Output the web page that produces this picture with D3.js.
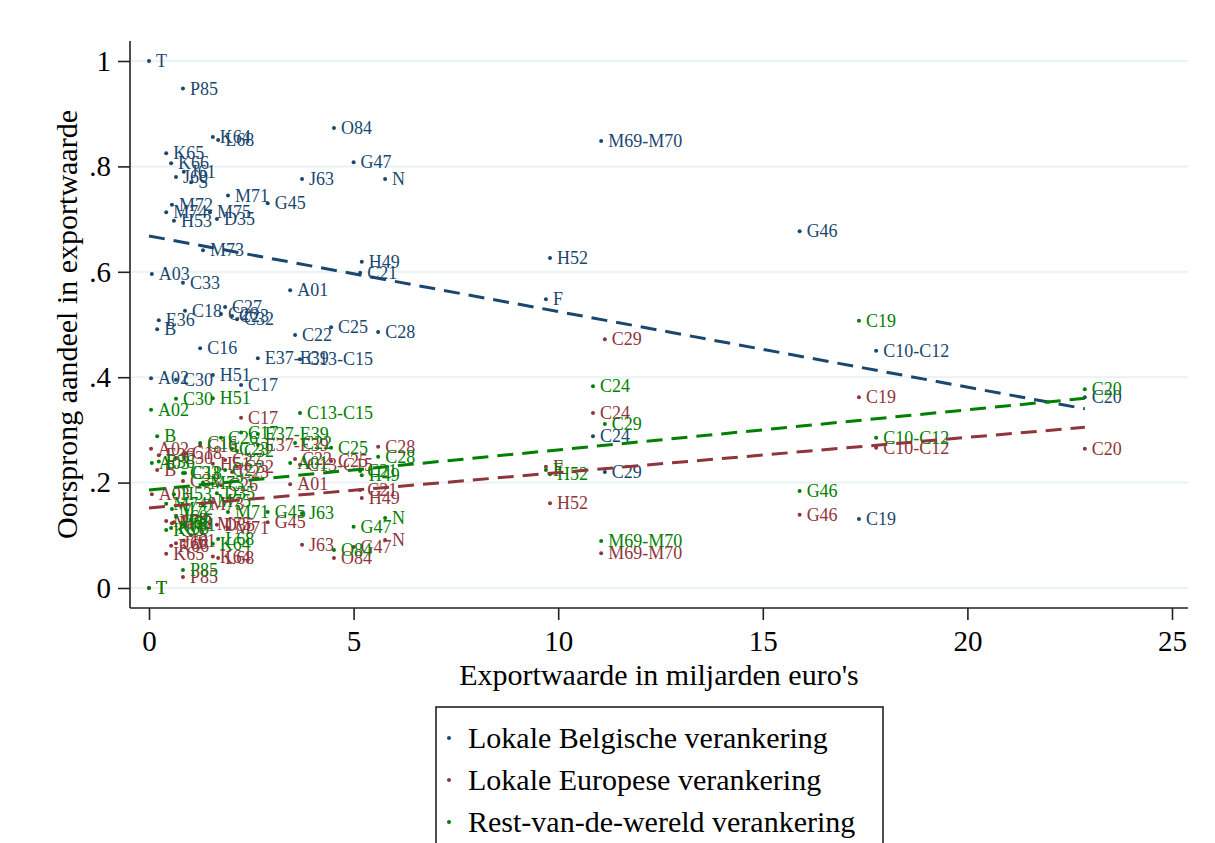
<!DOCTYPE html>
<html>
<head>
<meta charset="utf-8">
<script src="https://cdn.jsdelivr.net/npm/d3@7"></script>
<style>
body { margin: 0; background: #fff; }
svg { display: block; font-family: "Liberation Serif", "Times New Roman", serif; }
</style>
</head>
<body>
<svg id="chart" width="1215" height="843"></svg>
<script>
// sector codes and export value (bn euro)
const sectors = ["T","P85","K64","L68","O84","K65","K66","J61","J60","S",
    "M71","G45","J63","G47","N","M69-M70","M72","M74","M75","D35",
    "H53","M73","H49","C21","A03","C33","A01","H52","F","G46",
    "C10-C12","C20","C19","C24","C29","C18","C27","C26","C23","C32",
    "E36","B","C22","C25","C28","C16","E37-E39","C13-C15","A02","C30",
    "H51","C17"];
const exportValue = [0.00,0.83,1.56,1.69,4.52,0.42,0.54,0.85,0.66,1.03,
    1.93,2.90,3.74,5.00,5.77,11.05,0.56,0.42,1.49,1.66,
    0.61,1.32,5.20,5.16,0.07,0.83,3.45,9.80,9.70,15.90,
    17.77,22.87,17.35,10.85,11.14,0.88,1.86,1.76,2.03,2.15,
    0.24,0.20,3.57,4.45,5.60,1.25,2.66,3.69,0.05,0.66,
    1.56,2.25];
const shareBelgian = [1.000,0.948,0.856,0.850,0.873,0.825,0.806,0.790,0.780,0.770,
    0.745,0.730,0.776,0.808,0.776,0.848,0.727,0.713,0.713,0.700,
    0.697,0.641,0.619,0.598,0.596,0.579,0.565,0.626,0.548,0.677,
    0.450,0.362,0.131,0.288,0.220,0.526,0.533,0.520,0.516,0.510,
    0.508,0.491,0.480,0.495,0.486,0.455,0.436,0.434,0.398,0.395,
    0.404,0.385];
const shareEurope = [0.000,0.021,0.060,0.057,0.057,0.065,0.080,0.090,0.085,0.100,
    0.114,0.125,0.082,0.078,0.091,0.066,0.123,0.127,0.122,0.120,
    0.125,0.159,0.171,0.186,0.178,0.203,0.197,0.161,0.230,0.139,
    0.266,0.264,0.362,0.332,0.472,0.256,0.243,0.195,0.220,0.230,
    0.252,0.224,0.245,0.241,0.268,0.270,0.272,0.234,0.264,0.246,
    0.236,0.323];
const shareWorld = [0.000,0.034,0.084,0.093,0.072,0.110,0.114,0.120,0.135,0.130,
    0.144,0.144,0.142,0.116,0.133,0.089,0.150,0.160,0.165,0.180,
    0.178,0.200,0.214,0.222,0.237,0.218,0.237,0.216,0.224,0.184,
    0.285,0.377,0.507,0.383,0.311,0.218,0.224,0.285,0.264,0.260,
    0.240,0.288,0.275,0.266,0.249,0.275,0.292,0.332,0.338,0.359,
    0.360,0.295];

const seriesNames = ["Lokale Belgische verankering", "Lokale Europese verankering", "Rest-van-de-wereld verankering"];
const seriesColors = ["#1a476f", "#90353b", "#008000"];
// fitted values of the linear fits at x = 0 and at the largest export value
const fitStart = [0.668, 0.152, 0.186];
const fitEnd = [0.340, 0.305, 0.360];

const xTicks = [0, 5, 10, 15, 20, 25];
const yTicks = [0, 0.2, 0.4, 0.6, 0.8, 1];
const yTickLabels = ["0", ".2", ".4", ".6", ".8", "1"];

const svg = d3.select("#chart");
const plot = {left: 130, right: 1188, top: 41, bottom: 608};

const x = d3.scaleLinear().domain([0, 25]).range([149, 1172]);
const y = d3.scaleLinear().domain([0, 1]).range([588, 61]);

// grid
svg.append("g")
    .selectAll("line")
    .data(yTicks)
    .join("line")
    .attr("x1", plot.left).attr("x2", plot.right)
    .attr("y1", d => y(d)).attr("y2", d => y(d))
    .attr("stroke", "#eaf2f3")
    .attr("stroke-width", 2);

// axes
const xAxis = svg.append("g")
    .attr("transform", "translate(0," + plot.bottom + ")")
    .call(d3.axisBottom(x).tickValues(xTicks).tickSize(12).tickPadding(10).tickFormat(d3.format("d")));
xAxis.select(".domain").attr("d", "M" + plot.left + ",0H" + plot.right);

const yAxis = svg.append("g")
    .attr("transform", "translate(" + plot.left + ",0)")
    .call(d3.axisLeft(y).tickValues(yTicks).tickSize(12).tickPadding(7).tickFormat((d, i) => yTickLabels[i]));
yAxis.select(".domain").attr("d", "M0," + plot.top + "V" + plot.bottom);

svg.selectAll(".domain, .tick line").attr("stroke", "#222").attr("stroke-width", 1.6);
svg.selectAll(".tick text")
    .attr("fill", "#000")
    .style("font-family", "'Liberation Serif', 'Times New Roman', serif")
    .style("font-size", "29px");

// axis titles
svg.append("text")
    .attr("x", (plot.left + plot.right) / 2)
    .attr("y", 685)
    .attr("text-anchor", "middle")
    .style("font-size", "30px")
    .text("Exportwaarde in miljarden euro's");

svg.append("text")
    .attr("transform", "translate(77," + ((plot.top + plot.bottom) / 2) + ") rotate(-90)")
    .attr("text-anchor", "middle")
    .style("font-size", "30px")
    .text("Oorsprong aandeel in exportwaarde");

// points with labels
const shares = [shareBelgian, shareEurope, shareWorld];
shares.forEach((vals, s) => {
    const pts = sectors.map((name, i) => ({name: name, x: exportValue[i], v: vals[i]}));
    const g = svg.append("g").attr("fill", seriesColors[s]);
    g.selectAll("circle")
        .data(pts)
        .join("circle")
        .attr("cx", d => x(d.x))
        .attr("cy", d => y(d.v))
        .attr("r", 2);
    g.selectAll("text")
        .data(pts)
        .join("text")
        .attr("x", d => x(d.x) + 7)
        .attr("y", d => y(d.v))
        .attr("dy", "0.34em")
        .style("font-size", "18px")
        .text(d => d.name);
});

// linear fits
const xMax = d3.max(exportValue);
const line = d3.line().x(d => x(d[0])).y(d => y(d[1]));
shares.forEach((vals, s) => {
    svg.append("path")
        .datum([[0, fitStart[s]], [xMax, fitEnd[s]]])
        .attr("d", line)
        .attr("fill", "none")
        .attr("stroke", seriesColors[s])
        .attr("stroke-width", 3)
        .attr("stroke-dasharray", "16,9");
});

// legend
const legend = svg.append("g");
legend.append("rect")
    .attr("x", 436).attr("y", 707)
    .attr("width", 447).attr("height", 160)
    .attr("fill", "#fff")
    .attr("stroke", "#222")
    .attr("stroke-width", 1.6);
seriesNames.forEach((name, i) => {
    const cy = 738 + i * 42;
    legend.append("circle")
        .attr("cx", 449).attr("cy", cy).attr("r", 2)
        .attr("fill", seriesColors[i]);
    legend.append("text")
        .attr("x", 468).attr("y", cy)
        .attr("dy", "0.34em")
        .style("font-size", "30px")
        .text(name);
});
</script>
</body>
</html>
